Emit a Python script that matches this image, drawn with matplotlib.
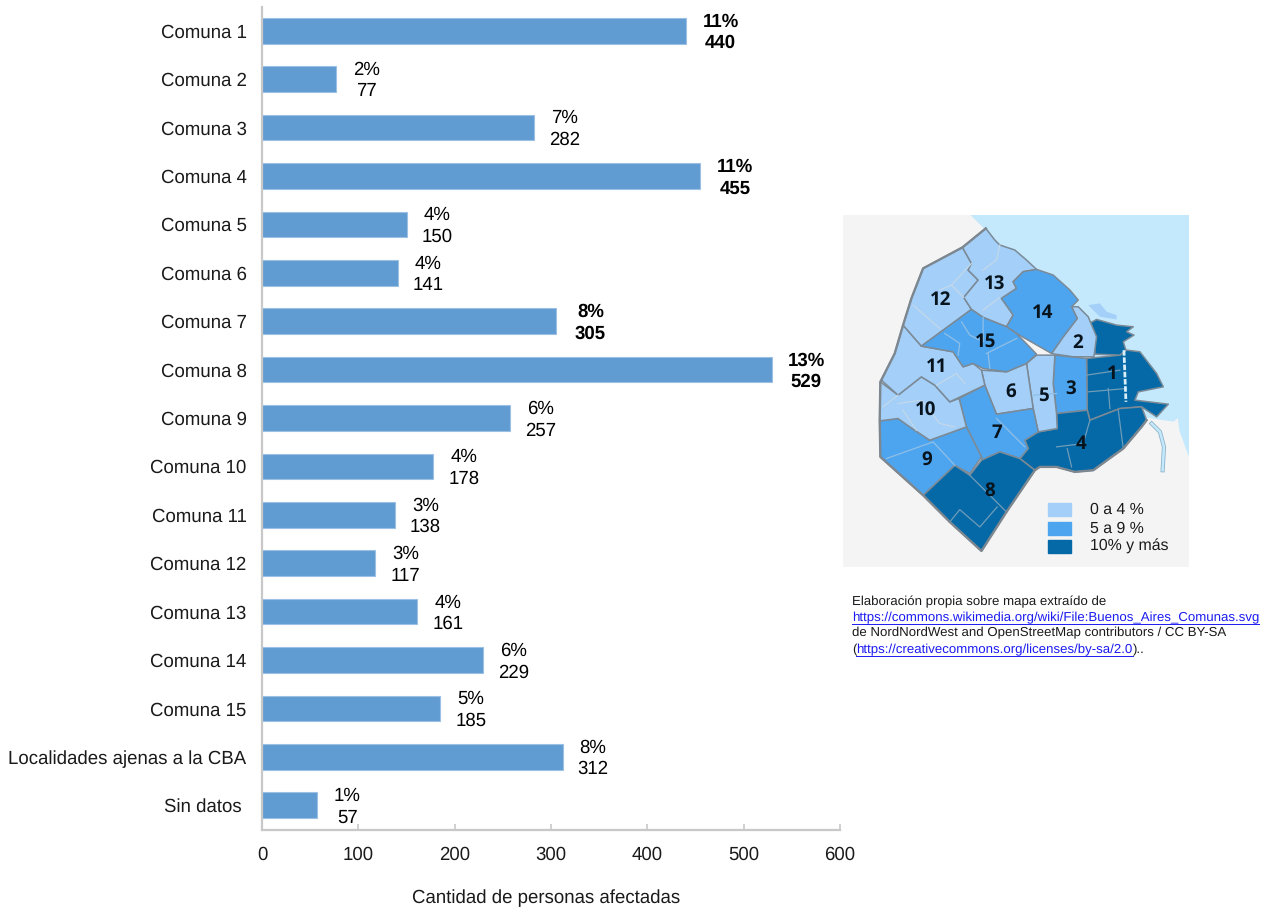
import matplotlib
matplotlib.use("Agg")
import matplotlib.pyplot as plt
from matplotlib.lines import Line2D
from matplotlib.patches import Polygon, Rectangle

plt.rcParams["font.family"] = ["Liberation Sans", "DejaVu Sans"]
plt.rcParams["text.hinting"] = "no_hinting"
plt.rcParams["text.hinting_factor"] = 8

# datos del grafico
comunas = ["Comuna 1", "Comuna 2", "Comuna 3", "Comuna 4", "Comuna 5", "Comuna 6", "Comuna 7",
           "Comuna 8", "Comuna 9", "Comuna 10", "Comuna 11", "Comuna 12", "Comuna 13", "Comuna 14",
           "Comuna 15", "Localidades ajenas a la CBA", "Sin datos "]
personas = [440, 77, 282, 455, 150, 141, 305, 529, 257, 178, 138, 117, 161, 229, 185, 312, 57]
porcentajes = [11, 2, 7, 11, 4, 4, 8, 13, 6, 4, 3, 3, 4, 6, 5, 8, 1]
en_negrita = ["Comuna 1", "Comuna 4", "Comuna 7", "Comuna 8"]
ticks_x = [0, 100, 200, 300, 400, 500, 600]

# colores del mapa
CLARO = "#a3cff8"
MEDIO = "#4ea5ef"
OSCURO = "#0469a6"
BORDE = "#7b8a96"
AGUA = "#c4e9fd"
FONDO = "#f4f4f4"

# contornos del mapa (coordenadas de la imagen del mapa)
c1a = [(740, 445), (840, 435), (860, 420), (900, 425), (950, 490), (970, 530), (895, 545), (885, 570), (985, 582),
       (950, 620), (905, 590), (840, 595), (750, 630), (742, 600)]
c1b = [(765, 432), (762, 380), (748, 340), (770, 328), (830, 345), (880, 350), (860, 365), (882, 375), (850, 395),
       (858, 420), (840, 435)]
c2 = [(635, 430), (670, 380), (712, 325), (695, 290), (715, 290), (745, 320), (770, 380), (762, 440), (700, 440),
      (645, 432)]
c3 = [(645, 435), (740, 445), (742, 600), (650, 610), (640, 520)]
c4 = [(652, 655), (650, 610), (742, 600), (750, 630), (840, 595), (905, 590), (920, 630), (905, 650), (850, 715),
      (760, 780), (705, 785), (650, 770), (600, 770), (585, 780), (540, 745), (565, 715), (555, 690), (595, 665)]
c5 = [(560, 460), (590, 435), (645, 435), (640, 520), (650, 610), (652, 655), (595, 665), (580, 595)]
c6 = [(425, 480), (500, 485), (560, 460), (580, 595), (470, 612), (435, 525)]
c7 = [(358, 565), (435, 525), (470, 612), (580, 595), (595, 665), (555, 690), (565, 715), (540, 745), (480, 725),
      (425, 750), (425, 740), (380, 650)]
c8 = [(345, 765), (390, 795), (425, 750), (480, 725), (540, 745), (585, 780), (500, 905), (425, 1022), (330, 935),
      (250, 855)]
c9 = [(120, 632), (175, 625), (210, 650), (270, 690), (380, 650), (425, 740), (390, 790), (345, 765), (250, 855),
      (122, 740)]
c10 = [(122, 515), (175, 555), (245, 500), (285, 525), (330, 575), (358, 565), (380, 650), (270, 690), (210, 650),
       (175, 625), (120, 632)]
c11 = [(190, 345), (245, 408), (340, 425), (370, 470), (400, 460), (425, 480), (435, 525), (330, 575), (285, 525),
       (245, 500), (175, 555), (125, 510), (165, 430)]
c12 = [(368, 112), (250, 175), (215, 265), (190, 345), (245, 408), (395, 298), (372, 262), (415, 210), (385, 180),
       (395, 160)]
c13 = [(438, 55), (368, 112), (395, 160), (385, 180), (415, 210), (372, 262), (395, 298), (430, 322), (500, 350),
       (520, 315), (510, 300), (485, 265), (530, 235), (520, 215), (550, 185), (590, 178), (560, 150), (525, 120),
       (480, 105), (465, 90)]
c14 = [(550, 185), (520, 215), (530, 235), (485, 265), (510, 300), (520, 315), (500, 350), (530, 370), (635, 430),
       (670, 380), (712, 325), (695, 290), (715, 270), (690, 240), (640, 195), (590, 178)]
c15 = [(245, 408), (395, 298), (430, 322), (500, 350), (530, 370), (590, 432), (560, 460), (500, 485), (430, 475),
       (400, 460), (370, 470), (340, 425)]
agua = [(395, 15), (1047, 15), (1047, 735), (1020, 660), (1015, 620), (1000, 632), (950, 625), (920, 620), (800, 500),
        (700, 330), (640, 250), (590, 210), (540, 150), (470, 105), (440, 60)]
islas = [(745, 285), (780, 280), (800, 305), (830, 315), (830, 328), (780, 320), (760, 300)]
riachuelo = [(935, 640), (960, 665), (972, 710), (968, 780)]
# borde exterior, mas grueso
contorno = [(438, 55), (368, 112), (250, 175), (215, 265), (190, 345), (165, 430), (122, 515), (120, 632), (122, 740),
            (250, 855), (330, 935), (425, 1022), (500, 905), (585, 780), (600, 770), (650, 770), (705, 785), (760, 780),
            (850, 715), (905, 650), (920, 630)]

comunas_mapa = [(c1a, OSCURO), (c1b, OSCURO), (c2, CLARO), (c3, MEDIO), (c4, OSCURO), (c5, CLARO), (c6, CLARO),
                (c7, MEDIO), (c8, OSCURO), (c9, MEDIO), (c10, CLARO), (c11, CLARO), (c12, CLARO), (c13, CLARO),
                (c14, MEDIO), (c15, MEDIO)]

# lineas interiores de las comunas
lineas_claras = [
    [(220, 285), (300, 355)], [(300, 240), (335, 225), (395, 160)], [(335, 225), (372, 262)],
    [(430, 180), (470, 150), (480, 105)], [(430, 300), (480, 262)],
    [(130, 590), (175, 555)], [(175, 580), (245, 570), (300, 640), (345, 650)], [(190, 600), (230, 660)],
    [(290, 525), (350, 490), (375, 520)],
]
lineas_medias = [
    [(315, 370), (360, 400), (355, 435)], [(365, 335), (390, 375), (430, 395), (430, 322)],
    [(440, 430), (530, 385)], [(445, 430), (450, 475)],
    [(140, 745), (280, 695), (345, 765)], [(470, 625), (555, 710)], [(580, 555), (650, 550)],
]
lineas_oscuras = [
    [(740, 495), (840, 480)], [(745, 545), (860, 535)], [(805, 535), (810, 595)],
    [(650, 710), (730, 700), (750, 630)], [(682, 715), (695, 770)], [(835, 600), (850, 715)],
    [(390, 795), (500, 905)], [(330, 935), (360, 898), (420, 950), (472, 890)],
]
numeros = ["1", "2", "3", "4", "5", "6", "7", "8", "9", "10", "11", "12", "13", "14", "15"]
pos_numeros = [(818, 493), (714, 400), (693, 535), (722, 702), (612, 557), (512, 546), (470, 670), (451, 843),
               (262, 749), (257, 598), (290, 470), (302, 270), (463, 221), (608, 309), (438, 394)]
leyenda = ["0 a 4 %", "5 a 9 %", "10% y más"]
leyenda_colores = [CLARO, MEDIO, OSCURO]

W, H = 1270, 907
fig = plt.figure(figsize=(W / 100, H / 100), dpi=100)

# barras
ax = fig.add_axes([262 / W, 1 - 830 / H, 578 / W, 823 / H])
y = range(len(comunas))
ax.barh(y, personas, height=0.53, color="#609bd2", edgecolor="#9cc0e3", linewidth=0.8)
ax.set_ylim(len(comunas) - 0.49, -0.49)
ax.set_xlim(0, 600)
ax.set_xticks(ticks_x)
ax.set_yticks(list(y))
ax.set_yticklabels(comunas, fontsize=13.4, color="#1a1a1a")
ax.tick_params(axis="y", length=0, pad=11.2)
ax.tick_params(axis="x", direction="in", length=4, width=1.2, color="#c8c8c8", pad=11.5, labelsize=13.4,
               labelcolor="#1a1a1a")
for lado in ["top", "right"]:
    ax.spines[lado].set_visible(False)
for lado in ["left", "bottom"]:
    ax.spines[lado].set_color("#c8c8c8")
    ax.spines[lado].set_linewidth(1.6)

for i, (nombre, valor, pct) in enumerate(zip(comunas, personas, porcentajes)):
    negrita = nombre in en_negrita
    ax.annotate(f"{pct}%\n{valor}", (valor, i), xytext=(25 if negrita else 22, -1.2), textcoords="offset points",
                ha="center", va="center", fontsize=13.4, color="black", fontweight="bold" if negrita else "normal",
                linespacing=1.28)

fig.text(546 / W, 1 - 898.5 / H, "Cantidad de personas afectadas", ha="center", va="center", fontsize=13.4,
         color="#1a1a1a")

# mapa
mapa = fig.add_axes([843 / W, 1 - 567 / H, 346 / W, 352 / H])
mapa.set_xlim(10, 1047)
mapa.set_ylim(1070, 15)
mapa.axis("off")
mapa.add_patch(Rectangle((10, 15), 1037, 1055, color=FONDO, zorder=0))
mapa.add_patch(Polygon(agua, closed=True, color=AGUA, zorder=1))
mapa.add_patch(Polygon(islas, closed=True, facecolor=CLARO, edgecolor="none", zorder=2))
mapa.plot(*zip(*riachuelo), color="#8fb4c9", lw=3, zorder=2)
mapa.plot(*zip(*riachuelo), color=AGUA, lw=1.8, zorder=2)
for forma, color in comunas_mapa:
    mapa.add_patch(Polygon(forma, closed=True, facecolor=color, edgecolor=BORDE, linewidth=1.1, joinstyle="round",
                           zorder=3))
for grupo, color in [(lineas_claras, "#c3d8ea"), (lineas_medias, "#8fbfe6"), (lineas_oscuras, "#6f9cba")]:
    for linea in grupo:
        mapa.plot(*zip(*linea), color=color, lw=0.9, zorder=4)
mapa.plot([852, 858], [420, 575], color="#d8eefa", lw=2, ls=(0, (2, 0.6)), zorder=4)
mapa.plot(*zip(*contorno), color="#7d8790", lw=1.7, zorder=4)
for num, (px, py) in zip(numeros, pos_numeros):
    mapa.text(px, py, num, ha="center", va="center", fontsize=13.5, fontweight="bold", family="Open Sans",
              color="#07131d", zorder=5)
for etiqueta, color, yc in zip(leyenda, leyenda_colores, [897, 954, 1009]):
    mapa.add_patch(Rectangle((625, yc - 20), 67, 40, color=color, zorder=3))
    mapa.text(749, yc, etiqueta, ha="left", va="center", fontsize=11.4, color="#1a1a1a", zorder=5)

# nota con enlaces
AZUL = "#1a1af0"
renderer = fig.canvas.get_renderer()


def nota(x, y_px, texto, enlace=False):
    t = fig.text(x / W, 1 - y_px / H, texto, ha="left", va="center", fontsize=9.53,
                 color=AZUL if enlace else "#1a1a1a")
    ancho = t.get_window_extent(renderer).width
    if enlace:
        fig.add_artist(Line2D([x / W, (x + ancho) / W], [1 - (y_px + 6) / H] * 2, color=AZUL, lw=0.7))
    return x + ancho


nota(852, 602, "Elaboración propia sobre mapa extraído de")
nota(852, 618, "https://commons.wikimedia.org/wiki/File:Buenos_Aires_Comunas.svg", True)
nota(852, 633, "de NordNordWest and OpenStreetMap contributors / CC BY-SA")
x_fin = nota(852, 650, "(")
x_fin = nota(x_fin, 650, "https://creativecommons.org/licenses/by-sa/2.0", True)
nota(x_fin, 650, ")..")

fig.savefig("out.png", dpi=100)
